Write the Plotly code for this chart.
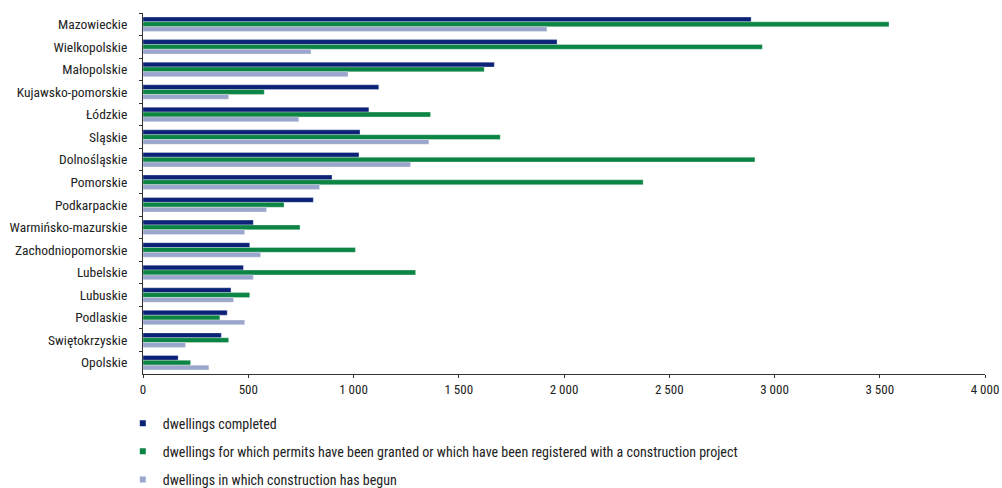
import plotly.graph_objects as go

regions = ["Mazowieckie", "Wielkopolskie", "Małopolskie", "Kujawsko-pomorskie", "Łódzkie",
           "Sląskie", "Dolnośląskie", "Pomorskie", "Podkarpackie", "Warmińsko-mazurskie",
           "Zachodniopomorskie", "Lubelskie", "Lubuskie", "Podlaskie", "Swiętokrzyskie", "Opolskie"]

completed = [2889, 1967, 1669, 1120, 1073, 1031, 1026, 898, 809, 524, 507, 477, 418, 400, 372, 167]
permits = [3544, 2942, 1621, 576, 1366, 1697, 2907, 2376, 670, 746, 1009, 1295, 507, 365, 407, 226]
begun = [1919, 798, 974, 407, 740, 1358, 1271, 839, 587, 483, 559, 524, 430, 483, 202, 313]

series_names = ["dwellings completed",
                "dwellings for which permits have been granted or which have been registered with a construction project",
                "dwellings in which construction has begun"]
series_colors = ["#0b2277", "#0b8444", "#9aa6cb"]

x_tick_vals = [0, 500, 1000, 1500, 2000, 2500, 3000, 3500, 4000]
x_tick_text = ["0", "500", "1 000", "1 500", "2 000", "2 500", "3 000", "3 500", "4 000"]

FONT = "Liberation Sans Narrow, Roboto Condensed, Arial Narrow, Liberation Sans, sans-serif"

fig = go.Figure()
for i, (name, vals, col) in enumerate(zip(series_names, [completed, permits, begun], series_colors)):
    fig.add_trace(go.Bar(
        y=regions, x=vals, name=name, orientation="h",
        marker=dict(color=col, line=dict(color="rgba(255,255,255,0.6)", width=0.5)),
        showlegend=False,
    ))
for i, (name, col) in enumerate(zip(series_names, series_colors)):
    fig.add_trace(go.Scatter(
        x=[None], y=[None], mode="markers", name=name,
        marker=dict(symbol="square", size=6, color=col),
        legendgroup="g%d" % i, showlegend=True,
    ))

fig.update_layout(
    width=1002, height=488,
    margin=dict(l=143, r=17, t=13, b=114, autoexpand=False),
    paper_bgcolor="white", plot_bgcolor="white",
    barmode="group", bargap=0.36, bargroupgap=0.0,
    font=dict(family=FONT, size=13, color="#222222"),
    showlegend=True,
    legend=dict(
        orientation="v", x=-0.024, xanchor="left", y=-0.093, yanchor="top",
        traceorder="grouped", tracegroupgap=7,
        font=dict(family=FONT, size=14, color="#222222"),
        itemwidth=30, bgcolor="rgba(0,0,0,0)",
    ),
    xaxis=dict(
        range=[0, 4000], tickvals=x_tick_vals, ticktext=x_tick_text,
        showgrid=False, zeroline=False, automargin=False,
        showline=True, linecolor="#333333", linewidth=1,
        ticks="outside", ticklen=3, tickcolor="#333333",
        tickfont=dict(family=FONT, size=13, color="#222222"),
    ),
    yaxis=dict(
        categoryorder="array", categoryarray=regions, autorange="reversed",
        showgrid=False, zeroline=False, automargin=False,
        showline=True, linecolor="#333333", linewidth=1,
        ticks="outside", ticklen=3, tickcolor="#333333", tickson="boundaries",
        tickfont=dict(family=FONT, size=13.5, color="#222222"),
        ticklabelstandoff=12,
    ),
)

fig.write_html("out.html", config={"displayModeBar": False},
               post_script="document.body.style.margin='0';document.body.style.overflow='hidden';")
